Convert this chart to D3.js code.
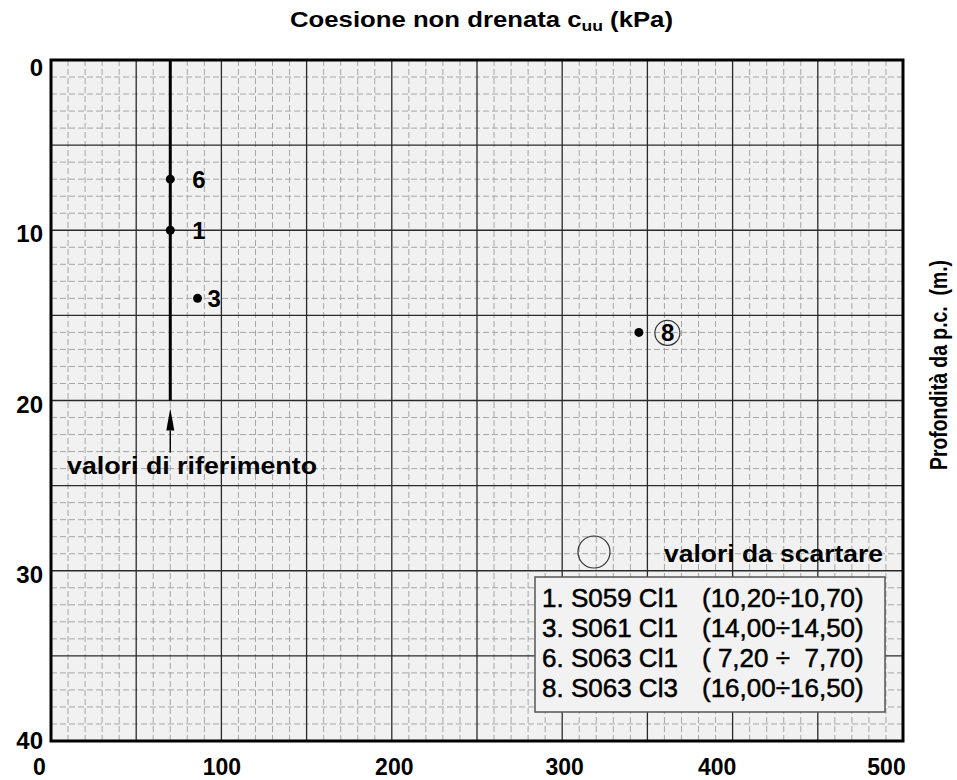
<!DOCTYPE html>
<html>
<head>
<meta charset="utf-8">
<script src="https://cdn.jsdelivr.net/npm/d3@7/dist/d3.min.js"></script>
<style>
  html, body { margin: 0; padding: 0; background: #ffffff; }
  svg { display: block; font-family: "Liberation Sans", Arial, Helvetica, sans-serif; }
  .pre { white-space: pre; }
</style>
</head>
<body>
<svg id="chart" width="957" height="780"></svg>
<script>
// Undrained cohesion vs depth
const xTicks = [0, 100, 200, 300, 400, 500];
const yTicks = [0, 10, 20, 30, 40];
const xMinorStep = 10, xMajorStep = 50;
const yMinorStep = 1, yMajorStep = 5;

// reference value line (c_uu = 70 kPa from 0 to 20 m)
const refCu = 70;
const refDepth = [0, 20];

// sample points
const pointIds = ["6", "1", "3", "8"];
const pointCu = [70, 70, 86, 345];
const pointDepth = [7, 10, 14, 16];
const discardedIds = ["8"];

// legend
const legendIds = ["1.", "3.", "6.", "8."];
const legendSamples = ["S059 Cl1", "S061 Cl1", "S063 Cl1", "S063 Cl3"];
const legendRanges = ["(10,20\u00f710,70)", "(14,00\u00f714,50)", "( 7,20 \u00f7  7,70)", "(16,00\u00f716,50)"];

const svg = d3.select("#chart");
const plot = { left: 51, right: 903, top: 60, bottom: 741 };

const x = d3.scaleLinear().domain([0, 500]).range([plot.left, plot.right]);
const y = d3.scaleLinear().domain([0, 40]).range([plot.top, plot.bottom]);

// background
svg.append("rect")
  .attr("x", plot.left).attr("y", plot.top)
  .attr("width", plot.right - plot.left).attr("height", plot.bottom - plot.top)
  .attr("fill", "#f1f1f1");

// minor grid (dashed)
const grid = svg.append("g");
const xMinor = d3.range(0, 500 + 1e-9, xMinorStep).filter(v => v % xMajorStep !== 0);
const yMinor = d3.range(0, 40 + 1e-9, yMinorStep).filter(v => v % yMajorStep !== 0);
grid.selectAll(".xminor").data(xMinor).join("line")
  .attr("x1", d => x(d)).attr("x2", d => x(d))
  .attr("y1", plot.top).attr("y2", plot.bottom)
  .attr("stroke", "#a6a6a6").attr("stroke-width", 1).attr("stroke-dasharray", "6,3");
grid.selectAll(".yminor").data(yMinor).join("line")
  .attr("x1", plot.left).attr("x2", plot.right)
  .attr("y1", d => y(d)).attr("y2", d => y(d))
  .attr("stroke", "#a6a6a6").attr("stroke-width", 1).attr("stroke-dasharray", "6,3");

// major grid (solid)
const xMajor = d3.range(0, 500 + 1e-9, xMajorStep);
const yMajor = d3.range(0, 40 + 1e-9, yMajorStep);
grid.selectAll(".xmajor").data(xMajor).join("line")
  .attr("x1", d => x(d)).attr("x2", d => x(d))
  .attr("y1", plot.top).attr("y2", plot.bottom)
  .attr("stroke", "#2a2a2a").attr("stroke-width", 1.3);
grid.selectAll(".ymajor").data(yMajor).join("line")
  .attr("x1", plot.left).attr("x2", plot.right)
  .attr("y1", d => y(d)).attr("y2", d => y(d))
  .attr("stroke", "#2a2a2a").attr("stroke-width", 1.3);

// frame
svg.append("rect")
  .attr("x", plot.left).attr("y", plot.top)
  .attr("width", plot.right - plot.left).attr("height", plot.bottom - plot.top)
  .attr("fill", "none").attr("stroke", "#000").attr("stroke-width", 3);

// x axis labels
const xLabelNudge = { 0: -12, 100: 0, 200: 2, 300: 2, 400: -16, 500: -17 };
const xAxis = svg.append("g")
  .attr("transform", `translate(0,${plot.bottom})`)
  .call(d3.axisBottom(x).tickValues(xTicks).tickSize(0).tickPadding(0).tickFormat(d3.format("d")));
xAxis.select(".domain").remove();
xAxis.selectAll("text")
  .attr("y", 34).attr("dy", 0)
  .attr("dx", d => xLabelNudge[d] || 0)
  .attr("font-family", "Liberation Sans, Arial, sans-serif")
  .attr("font-size", 23).attr("font-weight", "bold").attr("fill", "#000");

// y axis labels
const yAxis = svg.append("g")
  .attr("transform", `translate(43,0)`)
  .call(d3.axisLeft(y).tickValues(yTicks).tickSize(0).tickPadding(0).tickFormat(d3.format("d")));
yAxis.select(".domain").remove();
yAxis.selectAll("text")
  .attr("x", 0).attr("dy", d => d === 0 ? "15" : (d === 40 ? "7" : "11.5"))
  .attr("font-family", "Liberation Sans, Arial, sans-serif")
  .attr("font-size", 24).attr("font-weight", "bold").attr("fill", "#000");

// reference line
svg.append("line")
  .attr("x1", x(refCu)).attr("x2", x(refCu))
  .attr("y1", y(refDepth[0])).attr("y2", y(refDepth[1]))
  .attr("stroke", "#000").attr("stroke-width", 3);

// arrow pointing to the reference line
const ax = x(refCu);
svg.append("line")
  .attr("x1", ax).attr("x2", ax).attr("y1", y(refDepth[1]) + 30).attr("y2", y(refDepth[1]) + 52)
  .attr("stroke", "#000").attr("stroke-width", 1.4);
svg.append("path")
  .attr("d", `M${ax},${y(refDepth[1]) + 8} L${ax - 4},${y(refDepth[1]) + 30} L${ax + 4},${y(refDepth[1]) + 30} Z`)
  .attr("fill", "#000");
svg.append("text")
  .attr("x", 67).attr("y", 474)
  .attr("font-size", 23).attr("font-weight", "bold")
  .attr("textLength", 250).attr("lengthAdjust", "spacingAndGlyphs")
  .text("valori di riferimento");

// points
const points = pointIds.map((id, i) => ({ id, cu: pointCu[i], depth: pointDepth[i], discarded: discardedIds.includes(id) }));
svg.selectAll(".pt").data(points).join("circle")
  .attr("cx", d => x(d.cu)).attr("cy", d => y(d.depth)).attr("r", 4.5)
  .attr("fill", "#000");

const labelDx = { "6": 22, "1": 22, "3": 10, "8": 22 };
svg.selectAll(".ptlabel").data(points).join("text")
  .attr("x", d => x(d.cu) + labelDx[d.id])
  .attr("y", d => y(d.depth) + 9)
  .attr("font-size", 24).attr("font-weight", "bold")
  .text(d => d.id);

// rings around discarded points' labels
svg.selectAll(".ring").data(points.filter(d => d.discarded)).join("circle")
  .attr("cx", d => x(d.cu) + labelDx[d.id] + 6.5).attr("cy", d => y(d.depth) + 0.5).attr("r", 12.5)
  .attr("fill", "none").attr("stroke", "#333").attr("stroke-width", 1.2);

// legend: discarded symbol
svg.append("circle")
  .attr("cx", 594).attr("cy", 552).attr("r", 16)
  .attr("fill", "none").attr("stroke", "#333").attr("stroke-width", 1.2);
svg.append("text")
  .attr("x", 664).attr("y", 562)
  .attr("font-size", 23).attr("font-weight", "bold")
  .attr("textLength", 219).attr("lengthAdjust", "spacingAndGlyphs")
  .text("valori da scartare");

// legend box
svg.append("rect")
  .attr("x", 535).attr("y", 577).attr("width", 350).attr("height", 135)
  .attr("fill", "#f2f2f2").attr("stroke", "#555").attr("stroke-width", 1.5);
const legendRows = legendIds.map((id, i) => ({ id, sample: legendSamples[i], range: legendRanges[i] }));
const rows = svg.selectAll(".lrow").data(legendRows).join("g")
  .attr("transform", (d, i) => `translate(0,${607 + i * 30})`);
rows.append("text")
  .attr("x", 542).attr("y", 0)
  .attr("font-size", 26).attr("class", "pre")
  .attr("stroke", "#000").attr("stroke-width", 0.5)
  .text(d => `${d.id} ${d.sample}`);
rows.append("text")
  .attr("x", 702).attr("y", 0)
  .attr("font-size", 26).attr("class", "pre")
  .attr("stroke", "#000").attr("stroke-width", 0.5)
  .text(d => d.range);

// title
const title = svg.append("text")
  .attr("x", 290).attr("y", 27)
  .attr("font-size", 22).attr("font-weight", "bold")
  .attr("textLength", 383).attr("lengthAdjust", "spacingAndGlyphs");
title.append("tspan").text("Coesione non drenata c");
title.append("tspan").attr("font-size", 15).attr("dy", 4).text("uu");
title.append("tspan").attr("dy", -4).text(" (kPa)");

// right-hand axis title
svg.append("text")
  .attr("transform", "translate(947,470) rotate(-90)")
  .attr("font-size", 23).attr("font-weight", "bold").attr("class", "pre")
  .attr("textLength", 210).attr("lengthAdjust", "spacingAndGlyphs")
  .text("Profondità da p.c.  (m.)");
</script>
</body>
</html>
